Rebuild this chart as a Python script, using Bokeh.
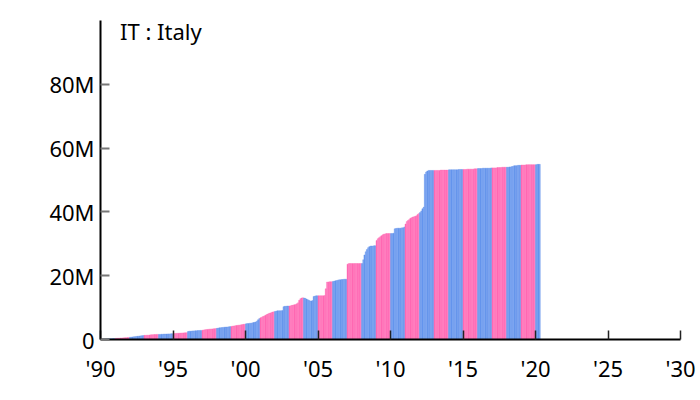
from bokeh.plotting import figure
from bokeh.models import Range1d, FixedTicker, Label, ColumnDataSource
from bokeh.embed import file_html
from bokeh.resources import INLINE

# ---- data (cumulative value, millions), monthly from Jan 1990 ----
start_year = 1990
title_text = "IT : Italy"
y_ticks = [0, 20, 40, 60, 80]
y_tick_labels = ["0", "20M", "40M", "60M", "80M"]
x_ticks = [1990, 1995, 2000, 2005, 2010, 2015, 2020, 2025, 2030]
x_tick_labels = ["'90", "'95", "'00", "'05", "'10", "'15", "'20", "'25", "'30"]

values_m = [
    0.05, 0.08, 0.10, 0.12, 0.15, 0.18, 0.20, 0.22, 0.25, 0.27, 0.30, 0.30,   # 1990
    0.35, 0.38, 0.40, 0.42, 0.45, 0.48, 0.50, 0.52, 0.55, 0.58, 0.60, 0.65,   # 1991
    0.70, 0.75, 0.80, 0.85, 0.90, 0.95, 1.00, 1.05, 1.10, 1.15, 1.20, 1.25,   # 1992
    1.30, 1.30, 1.35, 1.35, 1.40, 1.45, 1.50, 1.50, 1.55, 1.55, 1.60, 1.60,   # 1993
    1.60, 1.60, 1.65, 1.65, 1.70, 1.70, 1.70, 1.75, 1.75, 1.75, 1.80, 1.80,   # 1994
    1.85, 1.90, 1.90, 1.95, 1.95, 2.00, 2.00, 2.05, 2.05, 2.10, 2.10, 2.15,   # 1995
    2.50, 2.60, 2.60, 2.65, 2.70, 2.70, 2.75, 2.75, 2.80, 2.80, 2.85, 2.85,   # 1996
    2.90, 3.00, 3.05, 3.10, 3.15, 3.20, 3.25, 3.30, 3.30, 3.35, 3.40, 3.45,   # 1997
    3.50, 3.60, 3.65, 3.70, 3.75, 3.80, 3.85, 3.90, 3.90, 3.95, 4.00, 4.05,   # 1998
    4.10, 4.20, 4.25, 4.30, 4.40, 4.45, 4.50, 4.55, 4.60, 4.70, 4.75, 4.80,   # 1999
    4.90, 5.00, 5.00, 5.10, 5.10, 5.20, 5.30, 5.40, 5.50, 5.80, 6.20, 6.60,   # 2000
    6.80, 7.00, 7.20, 7.40, 7.60, 7.80, 8.00, 8.20, 8.30, 8.50, 8.60, 8.70,   # 2001
    8.80, 8.90, 9.00, 9.00, 9.00, 9.00, 9.10, 10.3, 10.4, 10.4, 10.5, 10.5,   # 2002
    10.5, 10.6, 10.7, 10.8, 10.9, 11.0, 11.2, 11.5, 12.3, 12.8, 13.0, 13.1,   # 2003
    13.0, 12.9, 12.7, 12.5, 12.3, 12.1, 12.1, 12.2, 13.5, 13.6, 13.7, 13.7,   # 2004
    13.7, 13.7, 13.7, 13.7, 13.7, 13.8, 15.9, 18.0, 18.0, 18.1, 18.1, 18.1,   # 2005
    18.2, 18.3, 18.4, 18.5, 18.6, 18.7, 18.7, 18.8, 18.8, 18.9, 18.9, 18.9,   # 2006
    23.6, 23.8, 23.8, 23.8, 23.8, 23.8, 23.8, 23.8, 23.8, 23.8, 23.8, 23.8,   # 2007
    23.8, 25.0, 26.5, 27.5, 28.2, 28.8, 29.1, 29.3, 29.3, 29.3, 29.4, 29.4,   # 2008
    31.0, 31.6, 31.9, 32.2, 32.5, 32.8, 33.0, 33.1, 33.2, 33.2, 33.2, 33.2,   # 2009
    33.2, 33.2, 33.3, 34.7, 34.8, 34.9, 34.9, 34.9, 34.9, 35.0, 35.0, 35.3,   # 2010
    36.2, 37.0, 37.3, 37.6, 38.0, 38.2, 38.4, 38.5, 38.6, 38.8, 39.2, 39.5,   # 2011
    39.8, 40.3, 41.0, 41.5, 51.8, 52.5, 52.8, 53.0, 53.0, 53.0, 53.0, 53.0,   # 2012
    53.0, 53.0, 53.0, 53.0, 53.0, 53.1, 53.1, 53.1, 53.1, 53.1, 53.1, 53.1,   # 2013
    53.2, 53.2, 53.2, 53.2, 53.2, 53.2, 53.2, 53.2, 53.3, 53.3, 53.3, 53.3,   # 2014
    53.3, 53.3, 53.3, 53.4, 53.4, 53.4, 53.4, 53.4, 53.4, 53.5, 53.5, 53.5,   # 2015
    53.6, 53.6, 53.6, 53.6, 53.7, 53.7, 53.7, 53.7, 53.7, 53.7, 53.7, 53.8,   # 2016
    53.8, 53.8, 53.8, 53.8, 53.9, 53.9, 53.9, 53.9, 54.0, 54.0, 54.0, 54.0,   # 2017
    54.0, 54.0, 54.1, 54.1, 54.2, 54.3, 54.5, 54.5, 54.5, 54.6, 54.6, 54.6,   # 2018
    54.7, 54.7, 54.7, 54.7, 54.8, 54.8, 54.8, 54.8, 54.8, 54.8, 54.8, 54.8,   # 2019
    54.8, 54.9, 54.9, 54.9,                                                   # 2020
]

# ---- styling ----
BLUE = "#6495ED"
PINK = "#FF69B4"
FONT = "Noto Sans"
FSIZE = "22px"

n = len(values_m)
xs = [start_year + (i + 0.5) / 12 for i in range(n)]
year_of = [start_year + i // 12 for i in range(n)]
colors = [BLUE if y % 2 == 0 else PINK for y in year_of]
alphas = [1.0 if (i % 2 == 0) else 0.8 for i in range(n)]

src = ColumnDataSource(dict(x=xs, top=values_m, color=colors, alpha=alphas))

p = figure(width=700, height=400, output_backend="svg", toolbar_location=None,
           x_range=Range1d(1990, 2030), y_range=Range1d(0, 100),
           min_border_left=100, min_border_right=20, min_border_top=20,
           min_border_bottom=61)
p.outline_line_color = None
p.xgrid.visible = False
p.ygrid.visible = False

p.vbar(x="x", top="top", bottom=0, width=1 / 12, source=src,
       fill_color="color", fill_alpha="alpha",
       line_color="color", line_alpha="alpha", line_width=0.4)

# y axis
ya = p.yaxis[0]
ya.ticker = FixedTicker(ticks=y_ticks)
ya.major_label_overrides = {t: l for t, l in zip(y_ticks, y_tick_labels)}
ya.axis_line_color = "black"
ya.axis_line_width = 2
ya.major_tick_in = 9
ya.major_tick_out = 0
ya.major_tick_line_color = "#777777"
ya.major_tick_line_width = 2
ya.minor_tick_line_color = None
ya.major_label_text_font = FONT
ya.major_label_text_font_size = FSIZE
ya.major_label_text_color = "black"
ya.major_label_standoff = 6

# x axis
xa = p.xaxis[0]
xa.ticker = FixedTicker(ticks=x_ticks)
xa.major_label_overrides = {t: l for t, l in zip(x_ticks, x_tick_labels)}
xa.axis_line_color = "black"
xa.axis_line_width = 2
xa.major_tick_in = 9
xa.major_tick_out = 0
xa.major_tick_line_color = "#222222"
xa.major_tick_line_width = 1.5
xa.minor_tick_line_color = None
xa.major_label_text_font = FONT
xa.major_label_text_font_size = FSIZE
xa.major_label_text_color = "black"
xa.major_label_standoff = 13

title_label = Label(x=1991.35, y=96.8, text=title_text, text_font=FONT,
                    text_font_size=FSIZE, text_color="black",
                    text_baseline="middle", text_align="left")
p.add_layout(title_label)

open("out.html", "w").write(file_html(p, INLINE))
